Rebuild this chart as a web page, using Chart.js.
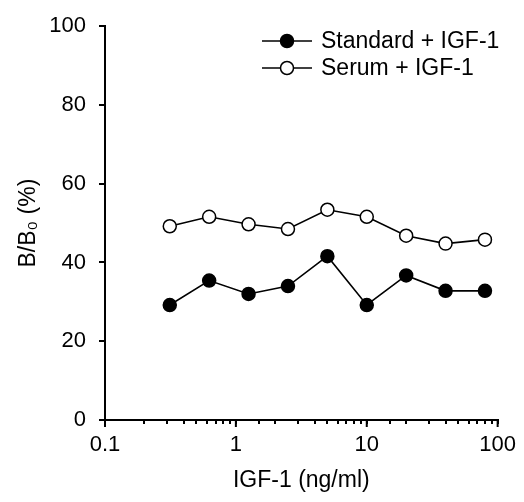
<!DOCTYPE html>
<html>
<head>
<meta charset="utf-8">
<script src="https://cdn.jsdelivr.net/npm/chart.js@4/dist/chart.umd.min.js"></script>
<style>
html,body{margin:0;padding:0;background:#fff;}
#wrap{width:524px;height:502px;}
</style>
</head>
<body>
<div id="wrap"><canvas id="c" width="524" height="502"></canvas></div>
<script>
// Data
const concentrations = [0.3125, 0.625, 1.25, 2.5, 5, 10, 20, 40, 80];
const standardIGF1 = [29.2, 35.4, 32.0, 34.0, 41.6, 29.2, 36.7, 32.8, 32.8];
const serumIGF1 = [49.2, 51.6, 49.7, 48.5, 53.4, 51.6, 46.8, 44.8, 45.8];
const seriesNames = ['Standard + IGF-1', 'Serum + IGF-1'];
const xMajorTicks = [0.1, 1, 10, 100];
const yTicks = [0, 20, 40, 60, 80, 100];
const xTitle = 'IGF-1 (ng/ml)';
const yTitle = 'B/B\u2080 (%)';

const FONT = '"Liberation Sans", Arial, Helvetica, sans-serif';

function pts(ys){ return concentrations.map((x,i)=>({x:x, y:ys[i]})); }

const majorTickPlugin = {
  id: 'majorTicks',
  afterDraw(chart){
    const sx = chart.scales.x;
    const ctx = chart.ctx;
    ctx.save();
    ctx.strokeStyle = '#000';
    ctx.lineWidth = 2;
    xMajorTicks.forEach(v=>{
      const px = sx.getPixelForValue(v);
      ctx.beginPath();
      ctx.moveTo(px, sx.top);
      ctx.lineTo(px, sx.top + 7);
      ctx.stroke();
    });
    ctx.restore();
  }
};

const legendPlugin = {
  id: 'customLegend',
  afterDraw(chart){
    const ctx = chart.ctx;
    const rows = [41, 68];
    ctx.save();
    chart.data.datasets.forEach((ds, i)=>{
      const y = rows[i];
      ctx.strokeStyle = '#000';
      ctx.lineWidth = 1.5;
      ctx.beginPath();
      ctx.moveTo(262, y);
      ctx.lineTo(312, y);
      ctx.stroke();
      ctx.fillStyle = ds.pointBackgroundColor;
      ctx.strokeStyle = ds.pointBorderColor;
      ctx.lineWidth = ds.pointBorderWidth;
      Chart.helpers.drawPoint(ctx, {pointStyle:'circle', radius: ds.pointRadius, borderWidth: ds.pointBorderWidth}, 287, y);
      ctx.fillStyle = '#000';
      ctx.font = '23px ' + FONT;
      ctx.textBaseline = 'middle';
      ctx.textAlign = 'left';
      ctx.fillText(ds.label, 321, y + 1);
    });
    ctx.restore();
  }
};

new Chart(document.getElementById('c'), {
  type: 'line',
  data: {
    datasets: [
      {
        label: seriesNames[0],
        data: pts(standardIGF1),
        borderColor: '#000',
        borderWidth: 1.6,
        pointRadius: 6.5,
        pointBackgroundColor: '#000',
        pointBorderColor: '#000',
        pointBorderWidth: 1.5,
        fill: false,
        tension: 0
      },
      {
        label: seriesNames[1],
        data: pts(serumIGF1),
        borderColor: '#000',
        borderWidth: 1.6,
        pointRadius: 6.5,
        pointBackgroundColor: '#fff',
        pointBorderColor: '#000',
        pointBorderWidth: 1.5,
        fill: false,
        tension: 0
      }
    ]
  },
  options: {
    responsive: false,
    animation: false,
    devicePixelRatio: 1,
    layout: { padding: { top: 24, right: 25, left: 0, bottom: 0 } },
    plugins: { legend: { display: false }, tooltip: { enabled: false } },
    scales: {
      x: {
        type: 'logarithmic',
        min: 0.1, max: 100,
        afterFit(s){ s.height = 82; },
        border: { display: true, color: '#000', width: 2 },
        grid: { drawOnChartArea: false, drawTicks: true, tickLength: 4, color: '#000', tickColor: '#000', tickWidth: 2, lineWidth: 2 },
        ticks: {
          autoSkip: false, maxRotation: 0, color: '#000', padding: 8,
          font: { family: FONT, size: 22 },
          callback(v){
            const m = xMajorTicks.find(t => Math.abs(Math.log10(t) - Math.log10(v)) < 1e-6);
            return m !== undefined ? String(m) : '';
          }
        },
        title: { display: true, text: xTitle, color: '#000', font: { family: FONT, size: 23 }, padding: { top: 0, bottom: 8 } }
      },
      y: {
        min: 0, max: 100,
        afterFit(s){ s.width = 105; },
        afterBuildTicks(s){ s.ticks = yTicks.map(v=>({value:v})); },
        border: { display: true, color: '#000', width: 2 },
        grid: { drawOnChartArea: false, drawTicks: true, tickLength: 6, color: '#000', tickColor: '#000', tickWidth: 2, lineWidth: 2 },
        ticks: { color: '#000', padding: 13, font: { family: FONT, size: 22 } },
        title: { display: true, text: yTitle, color: '#000', font: { family: FONT, size: 23 }, padding: { top: 15, bottom: 0 } }
      }
    }
  },
  plugins: [majorTickPlugin, legendPlugin]
});
</script>
</body>
</html>
